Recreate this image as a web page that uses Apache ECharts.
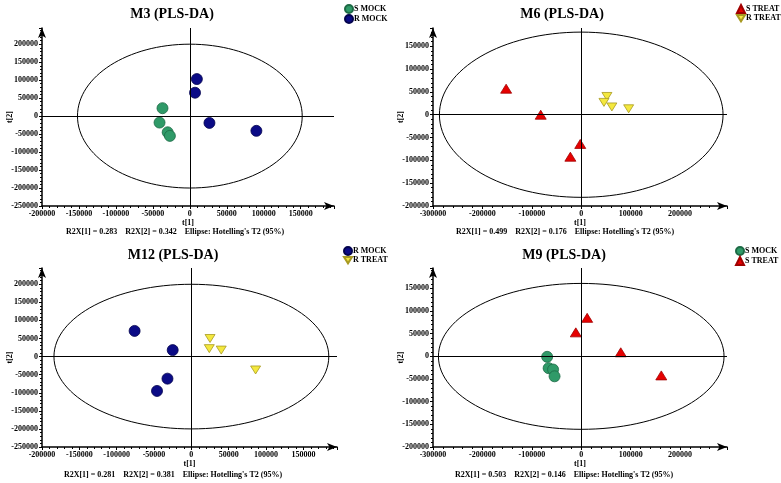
<!DOCTYPE html>
<html>
<head>
<meta charset="utf-8">
<script src="https://cdn.jsdelivr.net/npm/echarts@6/dist/echarts.min.js"></script>
<style>
html,body{margin:0;padding:0;background:#fff;}
#chart{width:781px;height:483px;}
</style>
</head>
<body>
<div id="chart"></div>
<script>
// ---- data ----
const panelTitles = ['M3 (PLS-DA)', 'M6 (PLS-DA)', 'M12 (PLS-DA)', 'M9 (PLS-DA)'];
const footers = [
  "R2X[1] = 0.283    R2X[2] = 0.342    Ellipse: Hotelling's T2 (95%)",
  "R2X[1] = 0.499    R2X[2] = 0.176    Ellipse: Hotelling's T2 (95%)",
  "R2X[1] = 0.281    R2X[2] = 0.381    Ellipse: Hotelling's T2 (95%)",
  "R2X[1] = 0.503    R2X[2] = 0.146    Ellipse: Hotelling's T2 (95%)"
];
const groupNames = ['S MOCK', 'R MOCK', 'S TREAT', 'R TREAT'];

const m3SMock  = [[-37000, 22000], [-41000, -18000], [-30000, -45000], [-27000, -55000]];
const m3RMock  = [[9500, 103000], [7000, 65000], [26500, -19000], [90000, -41000]];
const m6STreat = [[-152000, 57000], [-82000, 0], [-2000, -64000], [-22000, -92000]];
const m6RTreat = [[52000, 40000], [46000, 27000], [62000, 17000], [96000, 13000]];
const m12RMock = [[-76000, 71000], [-25000, 18000], [-32000, -61000], [-46000, -95000]];
const m12RTreat= [[25000, 50000], [24000, 22000], [40000, 18000], [86000, -37000]];
const m9SMock  = [[-69000, -1000], [-66000, -26000], [-57000, -29000], [-54000, -44000]];
const m9STreat = [[12000, 85000], [-11000, 53000], [80000, 9000], [162000, -42000]];

// Hotelling's T2 ellipse semi-axes [t1, t2]
const ellipseAxes = [[152000, 200000], [287000, 181000], [184000, 200000], [289000, 161000]];

// axis ranges / tick intervals
const xRanges = [[-200000, 195000], [-300000, 295000], [-200000, 195000], [-300000, 295000]];
const yRanges = [[-250000, 245000], [-200000, 190000], [-250000, 245000], [-200000, 195000]];
const xIntervals = [50000, 100000, 50000, 100000];
const yIntervals = [50000, 50000, 50000, 50000];

// ---- styling ----
const FONT = '"Liberation Serif", "Times New Roman", serif';
const invTri = 'path://M0,0L10,0L5,8Z';
const groupStyle = {
  'S MOCK':  {symbol: 'circle', size: 11, color: '#2f9a68', border: '#1d6a45'},
  'R MOCK':  {symbol: 'circle', size: 11, color: '#0b0b86', border: '#03034d'},
  'S TREAT': {symbol: 'triangle', size: [11, 9], color: '#e60000', border: '#a00000'},
  'R TREAT': {symbol: invTri, size: [10, 8], color: '#f4e83e', border: '#a89a22'}
};
const panelSeries = [
  [['S MOCK', m3SMock], ['R MOCK', m3RMock]],
  [['S TREAT', m6STreat], ['R TREAT', m6RTreat]],
  [['R MOCK', m12RMock], ['R TREAT', m12RTreat]],
  [['S MOCK', m9SMock], ['S TREAT', m9STreat]]
];
const grids = [
  {left: 42, top: 28, width: 292, height: 178},
  {left: 433, top: 28, width: 294, height: 178},
  {left: 42, top: 268, width: 295, height: 179},
  {left: 433, top: 268, width: 294, height: 179}
];
const legendPos = [{left: 344, top: 4}, {left: 736, top: 4}, {left: 343, top: 246}, {left: 735, top: 246}];
const titlePos = [[172, 14], [562, 14], [173, 255], [564, 255]];
const footerPos = [[175, 232], [565, 232], [173, 475], [564, 475]];

const labelStyle = {fontSize: 8, fontWeight: 'bold', fontFamily: FONT, color: '#000'};

function axisCommon(range, interval) {
  return {
    type: 'value', min: range[0], max: range[1], interval: interval,
    axisLine: {show: true, onZero: false, symbol: ['none', 'arrow'], symbolSize: [6, 10],
      lineStyle: {color: '#000', width: 1.5}},
    axisTick: {show: true, length: 3, lineStyle: {color: '#000', width: 1}},
    minorTick: {show: true, splitNumber: 5, length: 2, lineStyle: {color: '#000', width: 1}},
    splitLine: {show: false},
    axisLabel: Object.assign({margin: 4, showMaxLabel: false,
      formatter: function (v) { return String(Math.round(v)); }}, labelStyle),
    nameLocation: 'middle',
    nameMoveOverlap: false,
    nameTextStyle: labelStyle
  };
}

const option = {
  animation: false,
  backgroundColor: '#fff',
  grid: grids,
  xAxis: [], yAxis: [], series: [], legend: [], graphic: []
};

for (let i = 0; i < 4; i++) {
  const xa = axisCommon(xRanges[i], xIntervals[i]);
  xa.gridIndex = i; xa.name = 't[1]'; xa.nameGap = 13;
  option.xAxis.push(xa);
  const ya = axisCommon(yRanges[i], yIntervals[i]);
  ya.gridIndex = i; ya.name = 't[2]'; ya.nameGap = 28;
  option.yAxis.push(ya);

  const ax = ellipseAxes[i];
  option.series.push({
    type: 'custom', xAxisIndex: i, yAxisIndex: i, silent: true, z: 1,
    data: [[0, 0]],
    renderItem: function (params, api) {
      const c = api.coord([0, 0]);
      const e = api.coord([ax[0], ax[1]]);
      return {type: 'ellipse', shape: {cx: c[0], cy: c[1], rx: e[0] - c[0], ry: c[1] - e[1]},
        style: {fill: null, stroke: '#000', lineWidth: 1}};
    }
  });

  panelSeries[i].forEach(function (ps, k) {
    const st = groupStyle[ps[0]];
    const s = {
      type: 'scatter', name: ps[0], xAxisIndex: i, yAxisIndex: i, z: 3,
      data: ps[1], symbol: st.symbol, symbolSize: st.size,
      itemStyle: {color: st.color, borderColor: st.border, borderWidth: 0.8, opacity: 1},
      emphasis: {disabled: true}
    };
    if (k === 0) {
      s.markLine = {
        silent: true, symbol: ['none', 'none'], label: {show: false}, animation: false,
        lineStyle: {color: '#000', width: 1, type: 'solid'},
        emphasis: {disabled: true},
        data: [{xAxis: 0}, {yAxis: 0}]
      };
    }
    option.series.push(s);
  });

  option.legend.push({
    orient: 'vertical', left: legendPos[i].left, top: legendPos[i].top, padding: 0,
    itemWidth: 8, itemHeight: 8, itemGap: 0, selectedMode: false,
    data: panelSeries[i].map(function (ps) { return ps[0]; }),
    textStyle: {fontSize: 8, fontWeight: 'bold', fontFamily: FONT, color: '#000', padding: [0, 0, 0, -4], lineHeight: 8}
  });

  option.graphic.push({
    type: 'text', x: titlePos[i][0], y: titlePos[i][1], silent: true,
    style: {text: panelTitles[i], font: 'bold 14px ' + FONT, fill: '#000',
      align: 'center', verticalAlign: 'middle', textAlign: 'center', textVerticalAlign: 'middle'}
  });
  option.graphic.push({
    type: 'text', x: footerPos[i][0], y: footerPos[i][1], silent: true,
    style: {text: footers[i], font: 'bold 8px ' + FONT, fill: '#000',
      align: 'center', verticalAlign: 'middle', textAlign: 'center', textVerticalAlign: 'middle'}
  });
}

const chart = echarts.init(document.getElementById('chart'), null, {renderer: 'canvas'});
chart.setOption(option);
</script>
</body>
</html>
